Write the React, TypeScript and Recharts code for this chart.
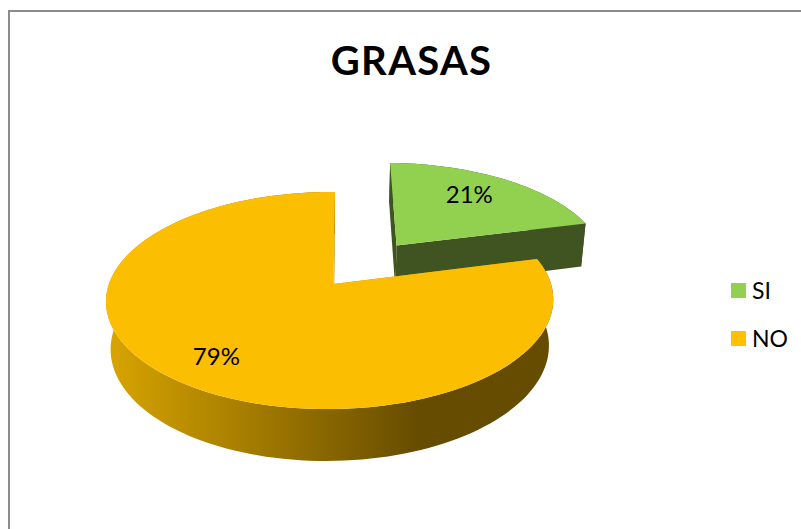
import React from "react";
import { PieChart, Pie, Cell, Legend } from "recharts";

// Share of answers per category
const categories = ["SI", "NO"];
const shares = [21, 79];
const chartTitle = "GRASAS";

const rows = categories.map((name, i) => ({ name, value: shares[i] }));

const FONT = "Lato, 'Open Sans', sans-serif";
const sliceFill: Record<string, string> = { SI: "#92d050", NO: "#ffc000" };
const faceFill: Record<string, string> = { SI: "#92d050", NO: "#fcbe00" };
const sideFill: Record<string, string> = { SI: "#3f5421", NO: "url(#noSide)" };
const wallFill: Record<string, string> = { SI: "#3f5421", NO: "#c29200" };
const explode: Record<string, number> = { SI: 0.49, NO: 0 };
const labelRadius: Record<string, number> = { SI: 0.73, NO: 0.77 };
const labelTurn: Record<string, number> = { SI: 4, NO: 0 };

// Perspective camera for the tilted disc: unit-circle coordinates plus a
// height flag (0 = top face, 1 = underside) go to screen pixels.
const TILT_Y = 0.48;
const THICK = 0.215;
const SHEAR = -0.008;
const PERSP_V = 0.152;
const PERSP_U = -0.016;
const PERSP_Z = 0.02;

type Pt = { x: number; y: number };

function project(cx: number, cy: number, R: number, u: number, v: number, z: number): Pt {
  const w = 1 - PERSP_V * v - PERSP_U * u + PERSP_Z * z;
  return { x: cx + (R * (u + SHEAR * v)) / w, y: cy + (R * (TILT_Y * v + THICK * z)) / w };
}

const toPath = (pts: Pt[]) =>
  pts.map((p, i) => `${i ? "L" : "M"}${p.x.toFixed(2)} ${p.y.toFixed(2)}`).join(" ") + " Z";

// Recharts angles are counter-clockwise from 3 o'clock; the disc maths uses
// clockwise from 12 o'clock.
const dir = (angle: number) => {
  const t = ((90 - angle) * Math.PI) / 180;
  return { u: Math.sin(t), v: -Math.cos(t) };
};

function Slice3D(props: any) {
  const { cx, cy, outerRadius: R, startAngle, endAngle, name, payload } = props;
  const key = name ?? payload?.name;
  const mid = dir((startAngle + endAngle) / 2);
  const e = explode[key] ?? 0;
  const ou = mid.u * e;
  const ov = mid.v * e;
  const steps = Math.max(8, Math.ceil(Math.abs(endAngle - startAngle) / 2));
  const rim: { u: number; v: number }[] = [];
  for (let i = 0; i <= steps; i++) {
    const d = dir(startAngle + ((endAngle - startAngle) * i) / steps);
    rim.push({ u: ou + d.u, v: ov + d.v });
  }
  const at = (p: { u: number; v: number }, z: number) => project(cx, cy, R, p.u, p.v, z);
  const apex = { u: ou, v: ov };
  const first = rim[0];
  const last = rim[rim.length - 1];

  const side = [...rim.map((p) => at(p, 0)), ...rim.slice().reverse().map((p) => at(p, 1))];
  const wallA = [at(apex, 0), at(first, 0), at(first, 1), at(apex, 1)];
  const wallB = [at(apex, 0), at(last, 0), at(last, 1), at(apex, 1)];
  const face = [at(apex, 0), ...rim.map((p) => at(p, 0))];

  return (
    <g>
      <defs>
        <linearGradient id="noSide" gradientUnits="userSpaceOnUse" x1={106} y1={0} x2={418} y2={0}>
          <stop offset="0" stopColor="#d9a500" />
          <stop offset="1" stopColor="#664c00" />
        </linearGradient>
      </defs>
      <path d={toPath(side)} fill={sideFill[key]} />
      <path d={toPath(wallB)} fill={wallFill[key]} />
      <path d={toPath(wallA)} fill={wallFill[key]} />
      <path d={toPath(face)} fill={faceFill[key]} />
    </g>
  );
}

function PercentLabel(props: any) {
  const { cx, cy, outerRadius: R, midAngle, percent, name, payload } = props;
  const key = name ?? payload?.name;
  const m = dir(midAngle);
  const d = dir(midAngle + (labelTurn[key] ?? 0));
  const e = explode[key] ?? 0;
  const r = labelRadius[key] ?? 0.75;
  const p = project(cx, cy, R, m.u * e + d.u * r, m.v * e + d.v * r, 0);
  return (
    <text x={p.x} y={p.y} textAnchor="middle" dominantBaseline="central" fontFamily={FONT} fontSize={24} fill="#000">
      {`${Math.round(percent * 100)}%`}
    </text>
  );
}

function LegendList({ payload }: any) {
  return (
    <div style={{ fontFamily: FONT, fontSize: 23, color: "#000" }}>
      {(payload ?? []).map((entry: any) => (
        <div key={entry.value} style={{ display: "flex", alignItems: "center", height: 48 }}>
          <span style={{ width: 15, height: 15, background: entry.color, marginRight: 6, display: "inline-block" }} />
          <span>{entry.value}</span>
        </div>
      ))}
    </div>
  );
}

export default function App() {
  const slice = (p: any) => <Slice3D {...p} />;
  return (
    <div style={{ position: "absolute", left: 0, top: 0, width: 801, height: 529, overflow: "hidden", background: "#fff" }}>
      <div
        style={{
          position: "absolute",
          left: 8,
          top: 10,
          width: 900,
          height: 700,
          border: "2px solid #8c8c8c",
        }}
      />
      <div
        style={{
          position: "absolute",
          left: 0,
          width: 823,
          top: 35,
          textAlign: "center",
          fontFamily: FONT,
          fontWeight: 700,
          fontSize: 40,
          letterSpacing: 1.3,
          lineHeight: "50px",
          color: "#000",
        }}
      >
        {chartTitle}
      </div>
      <PieChart width={801} height={529} margin={{ top: 0, right: 0, bottom: 0, left: 0 }} style={{ position: "absolute", left: 0, top: 0 }}>
        <Pie
          data={rows}
          dataKey="value"
          nameKey="name"
          cx={333.5}
          cy={284}
          outerRadius={221}
          startAngle={90}
          endAngle={-270}
          stroke="none"
          isAnimationActive={false}
          labelLine={false}
          label={PercentLabel}
          shape={slice}
          activeShape={slice}
          inactiveShape={slice}
        >
          {rows.map((row) => (
            <Cell key={row.name} fill={sliceFill[row.name]} />
          ))}
        </Pie>
        <Legend
          layout="vertical"
          content={LegendList}
          itemSorter={null}
          wrapperStyle={{ position: "absolute", left: 731, top: 266, width: 70 }}
        />
      </PieChart>
    </div>
  );
}
